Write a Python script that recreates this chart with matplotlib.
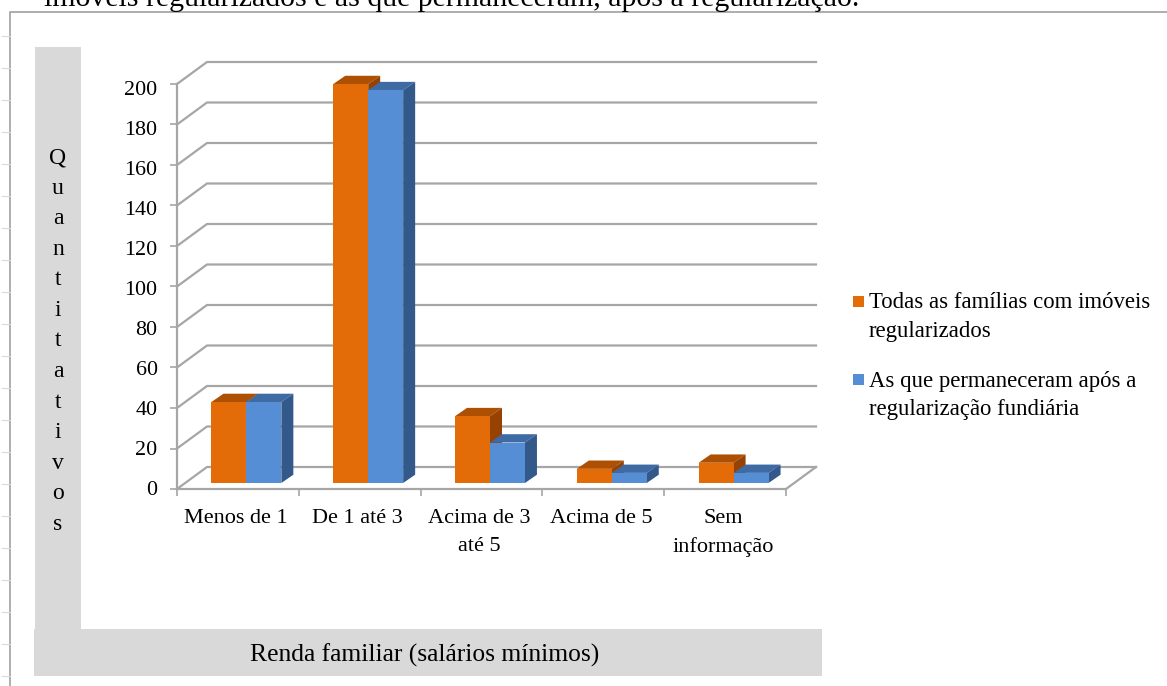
import matplotlib
matplotlib.use('Agg')
import matplotlib.pyplot as plt
from matplotlib.patches import Rectangle
from matplotlib.transforms import ScaledTranslation

plt.rcParams['font.family'] = ['Liberation Serif', 'DejaVu Serif']

# ====== Data =======
categories = ['Menos de 1', 'De 1 até 3', 'Acima de 3\naté 5', 'Acima de 5', 'Sem\ninformação']
todas = [40, 197, 33, 7, 10]
permaneceram = [40, 194, 20, 5, 5]
y_ticks = [0, 20, 40, 60, 80, 100, 120, 140, 160, 180, 200]
legend_labels = ['Todas as famílias com imóveis\nregularizados',
                 'As que permaneceram após a\nregularização fundiária']
y_title = 'Quantitativos'
x_title = 'Renda familiar (salários mínimos)'
page_text = 'imóveis regularizados e as que permaneceram, após a regularização.'

# ====== Sizes (pixels of the output) =======
W, H = 1167, 686
AX_L, AX_R, AX_T, AX_B = 177, 786, 84, 489
GRAY = '#a6a6a6'
ORANGE = ('#e36c09', '#ae5004', '#954203')  # front, top, side
BLUE = ('#558ed5', '#3f6ba5', '#33588a')

fig = plt.figure(figsize=(W / 100, H / 100), dpi=100)

# -- page background, grey title panels --
bg = fig.add_axes([0, 0, 1, 1])
bg.set_xlim(0, W)
bg.set_ylim(H, 0)
bg.axis('off')
bg.plot([10, 10, W], [H, 12, 12], color='#a0a0a0', lw=1.2)
for ty in range(36, H, 32):
    bg.plot([2, 10], [ty, ty], color='#d9d9d9', lw=0.8)
bg.add_patch(Rectangle((35, 47), 46, 582, color='#d9d9d9', lw=0))
bg.add_patch(Rectangle((34, 629), 788, 47, color='#d9d9d9', lw=0))
bg.text(44, 6, page_text, fontsize=21.5, color='black', va='baseline', clip_on=True)
bg.text(58, 341, '\n'.join(y_title), fontsize=17, ha='center', va='center',
        multialignment='center', linespacing=1.595, color='black')
bg.text(425, 655, x_title, fontsize=18.4, ha='center', va='center', color='black')

# -- legend --
for ly, col, label in zip([296, 374], [ORANGE[0], BLUE[0]], legend_labels):
    bg.add_patch(Rectangle((853, ly), 11, 11, color=col, lw=0))
    bg.text(869, ly - 3.5, label, fontsize=16.4, va='top', linespacing=1.45, color='black')

# -- chart axes: x in categories, y in values --
ax = fig.add_axes([AX_L / W, 1 - AX_B / H, (AX_R - AX_L) / W, (AX_B - AX_T) / H])
ax.patch.set_alpha(0)
ax.set_xlim(0, len(categories))
ax.set_ylim(0, 200)
px_x = len(categories) / (AX_R - AX_L)
px_y = 200 / (AX_B - AX_T)

# depth of the box and of the bars, and where the bars stand in it
wall_dx, wall_dy = 30 * px_x, 22 * px_y
bar_dx, bar_dy = 8.5 * px_x, 6 * px_y
side_dx, side_dy = 12 * px_x, 8.3 * px_y
bar_w = 0.287

# back wall and left wall grid lines
for v in y_ticks:
    ax.plot([0, wall_dx, len(categories) + wall_dx], [v, v + wall_dy, v + wall_dy],
            color=GRAY, lw=1.6, clip_on=False, zorder=1, solid_joinstyle='miter')
ax.plot([len(categories), len(categories) + wall_dx], [0, wall_dy],
        color=GRAY, lw=1.6, clip_on=False, zorder=1)


def draw_series(values, colors, shift):
    for i, v in enumerate(values):
        left = i + 0.5 + bar_dx + shift
        right = left + bar_w
        top = v + bar_dy
        ax.fill([left, left + side_dx, right + side_dx, right],
                [top, top + side_dy, top + side_dy, top],
                color=colors[1], lw=0, clip_on=False, zorder=3)
        ax.fill([right, right + side_dx, right + side_dx, right],
                [bar_dy, bar_dy + side_dy, top + side_dy, top],
                color=colors[2], lw=0, clip_on=False, zorder=3)
    ax.bar([i + 0.5 + bar_dx + shift for i in range(len(values))], values, bar_w,
           bottom=bar_dy, align='edge', color=colors[0], lw=0, clip_on=False, zorder=3)


draw_series(todas, ORANGE, -bar_w)
draw_series(permaneceram, BLUE, 0)

# axes look
for s in ['top', 'right']:
    ax.spines[s].set_visible(False)
for s in ['left', 'bottom']:
    ax.spines[s].set_color(GRAY)
    ax.spines[s].set_linewidth(1.6)
    ax.spines[s].set_zorder(2)
ax.set_yticks(y_ticks)
ax.tick_params(axis='y', length=5, width=1.2, color=GRAY, pad=9, labelsize=15.8)
ax.set_xticks(range(len(categories) + 1))
ax.set_xticklabels([])
ax.tick_params(axis='x', which='major', length=5, width=1.2, color=GRAY)
ax.set_xticks([i + 0.5 for i in range(len(categories))], minor=True)
ax.set_xticklabels(categories, minor=True, fontsize=16, linespacing=1.6)
ax.tick_params(axis='x', which='minor', length=0, pad=14.5)
# labels sit a little closer together than the ticks in the original
for lab, v in zip(ax.get_yticklabels(), y_ticks):
    nudge = (-1 + 5 * v / 200) / 100
    lab.set_transform(lab.get_transform() + ScaledTranslation(0, -nudge, fig.dpi_scale_trans))
for lab in ax.get_xticklabels(minor=True):
    lab.set_transform(lab.get_transform() + ScaledTranslation(-2 / 100, 0, fig.dpi_scale_trans))

fig.savefig('out.png', dpi=100)
